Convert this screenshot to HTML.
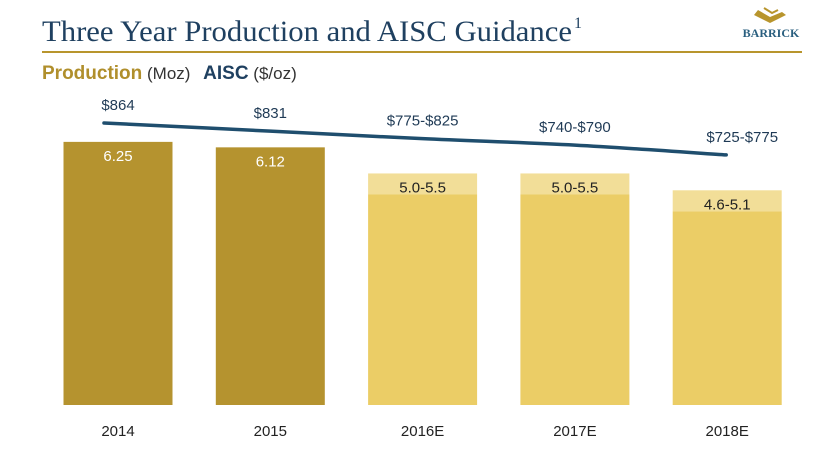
<!DOCTYPE html>
<html><head><meta charset="utf-8"><style>
body{margin:0;background:#fff;width:832px;height:448px;overflow:hidden;font-family:"Liberation Sans",sans-serif}
</style></head><body>
<svg width="832" height="448" xmlns="http://www.w3.org/2000/svg">
<text x="42" y="41" font-family="Liberation Serif,serif" font-size="30" fill="#1f4060" textLength="530" lengthAdjust="spacingAndGlyphs">Three Year Production and AISC Guidance</text>
<text x="574" y="28" font-family="Liberation Serif,serif" font-size="16" fill="#1f4060">1</text>
<line x1="42" y1="52" x2="802" y2="52" stroke="#b8952d" stroke-width="2"/>
<g>
<path d="M758 10 L770 17 L782 12 L786 15 L770 23 L754 15 Z" fill="#b8952d"/>
<path d="M764 8 L772 13 L778 10" stroke="#b8952d" stroke-width="2" fill="none"/>
<text x="771" y="37" text-anchor="middle" font-family="Liberation Serif,serif" font-weight="bold" font-size="12" fill="#2a5f7f">BARRICK</text>
</g>
<text x="42" y="79"><tspan font-weight="bold" fill="#b08f2c" font-size="19">Production</tspan><tspan fill="#333" font-size="17"> (Moz) </tspan><tspan font-weight="bold" fill="#1f4060" font-size="19" dx="8">AISC</tspan><tspan fill="#333" font-size="17"> ($/oz)</tspan></text>
<g id="bars"></g><g id="line"></g>
</svg>
<script>
const categories=["2014","2015","2016E","2017E","2018E"];
const prodLow=[6.25,6.12,5.0,5.0,4.6];
const prodHigh=[6.25,6.12,5.5,5.5,5.1];
const prodLabels=["6.25","6.12","5.0-5.5","5.0-5.5","4.6-5.1"];
const aisc=[864,835,808,785,750];
const aiscLabels=["$864","$831","$775-$825","$740-$790","$725-$775"];
const NS="http://www.w3.org/2000/svg";
const base=405,ppu=42.1;
const yP=v=>base-v*ppu;
const xC=i=>118+i*152.3;
const yA=v=>123+(864-v)*0.28;
const bars=document.getElementById('bars');
function mk(t,a,p){const e=document.createElementNS(NS,t);for(const k in a)e.setAttribute(k,a[k]);p.appendChild(e);return e;}
categories.forEach((c,i)=>{
 const x=xC(i)-54.5,w=109;
 const est=prodHigh[i]!==prodLow[i];
 if(est){
  const r1=mk('rect',{x:x,y:yP(prodHigh[i]),width:w,height:yP(prodLow[i])-yP(prodHigh[i]),fill:'#f2de98'},bars);
  
  
 }
 const r=mk('rect',{x:x,y:yP(prodLow[i]),width:w,height:base-yP(prodLow[i]),fill:est?'#ebcd66':'#b5932f'},bars);
 
 
 const t=mk('text',{x:xC(i),y:yP(prodHigh[i])+19,'text-anchor':'middle','font-size':'15',fill:est?'#222':'#fff'},bars);
 t.textContent=prodLabels[i];
 
 
 const l=mk('text',{x:xC(i),y:436,'text-anchor':'middle','font-size':'15',fill:'#222'},bars);
 l.textContent=c;
 
 
});
const lg=document.getElementById('line');
const pts=aisc.map((v,i)=>[i==0?xC(0)-14:i==aisc.length-1?xC(i)-1:xC(i),yA(v)]);
let d='M'+pts[0][0]+' '+pts[0][1];
for(let i=0;i<pts.length-1;i++){
 const p0=pts[Math.max(0,i-1)],p1=pts[i],p2=pts[i+1],p3=pts[Math.min(pts.length-1,i+2)];
 const c1=[p1[0]+(p2[0]-p0[0])/6,p1[1]+(p2[1]-p0[1])/6],c2=[p2[0]-(p3[0]-p1[0])/6,p2[1]-(p3[1]-p1[1])/6];
 d+=' C'+c1+' '+c2+' '+p2;
}
const p=mk('path',{d:d,stroke:'#1f4e6e','stroke-width':3.5,fill:'none','stroke-linecap':'round'},lg);


aisc.forEach((v,i)=>{
 const t=mk('text',{x:xC(i)+(i==4?15:0),y:yA(v)-13,'text-anchor':'middle','font-size':'15',fill:'#1f3a55'},lg);
 t.textContent=aiscLabels[i];
 
 
});
</script>
</body></html>
